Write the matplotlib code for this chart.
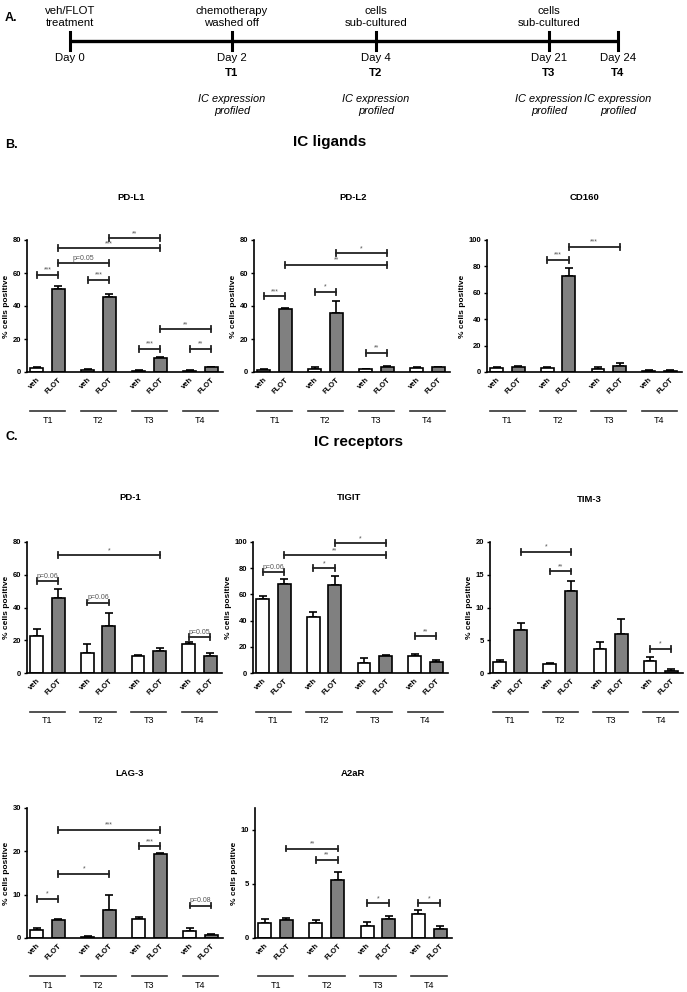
import numpy as np
import matplotlib
matplotlib.use("Agg")
import matplotlib.pyplot as plt
from matplotlib.transforms import blended_transform_factory

plt.rcParams['font.family'] = ['Liberation Sans', 'DejaVu Sans']

# ---- data -------------------------------------------------------------
groups = ['T1', 'T2', 'T3', 'T4']
bar_names = ['veh', 'FLOT']

days = ['Day 0', 'Day 2', 'Day 4', 'Day 21', 'Day 24']
timepoints = ['', 'T1', 'T2', 'T3', 'T4']
events = ['veh/FLOT\ntreatment', 'chemotherapy\nwashed off', 'cells\nsub-cultured',
          'cells\nsub-cultured', '']
profiled = ['', 'IC expression\nprofiled', 'IC expression\nprofiled',
            'IC expression\nprofiled', 'IC expression\nprofiled']

# PD-L1
pdl1_veh = [2.5, 1.3, 0.7, 0.8]
pdl1_veh_err = [0.5, 0.6, 0.3, 0.3]
pdl1_flot = [50.5, 45.5, 8.5, 2.8]
pdl1_flot_err = [1.5, 1.8, 0.6, 0.4]
pdl1_sig = [(0, 1, 59, '***'), (2, 3, 56, '***'), (1, 3, 66, 'p=0.05'),
            (1, 5, 75, '***'), (3, 5, 81, '**'), (4, 5, 14, '***'),
            (6, 7, 14, '**'), (5, 7, 26, '**')]

# PD-L2
pdl2_veh = [1.5, 2.0, 1.8, 2.5]
pdl2_veh_err = [0.5, 1.0, 0.3, 0.5]
pdl2_flot = [38.0, 36.0, 3.3, 2.8]
pdl2_flot_err = [1.0, 7.0, 0.5, 0.3]
pdl2_sig = [(0, 1, 46, '***'), (2, 3, 48.5, '*'), (4, 5, 11.5, '**'),
            (1, 5, 65, '**'), (3, 5, 72, '*')]

# CD160
cd160_veh = [3.0, 3.0, 2.5, 1.0]
cd160_veh_err = [0.5, 0.8, 1.0, 0.3]
cd160_flot = [3.5, 73.0, 4.5, 0.8]
cd160_flot_err = [0.7, 6.0, 2.0, 0.4]
cd160_sig = [(2, 3, 85, '***'), (3, 5, 95, '***')]

# PD-1
pd1_veh = [22.4, 12.0, 10.2, 17.8]
pd1_veh_err = [4.6, 5.5, 1.0, 1.0]
pd1_flot = [46.0, 29.0, 13.7, 10.6]
pd1_flot_err = [5.0, 7.5, 1.6, 1.6]
pd1_sig = [(0, 1, 56, 'p=0.06'), (2, 3, 43, 'p=0.06'), (6, 7, 22, 'p=0.05'),
           (1, 5, 72, '*')]

# TIGIT
tigit_veh = [56.5, 43.0, 7.6, 13.2]
tigit_veh_err = [2.5, 3.8, 3.8, 1.5]
tigit_flot = [68.0, 67.0, 12.7, 8.6]
tigit_flot_err = [3.4, 7.0, 0.7, 1.4]
tigit_sig = [(0, 1, 77, 'p=0.06'), (2, 3, 80, '*'), (1, 5, 90, '**'),
             (3, 5, 99, '*'), (6, 7, 28, '**')]

# TIM-3
tim3_veh = [1.75, 1.4, 3.7, 1.9]
tim3_veh_err = [0.25, 0.2, 1.1, 0.55]
tim3_flot = [6.6, 12.5, 6.0, 0.36]
tim3_flot_err = [1.1, 1.5, 2.3, 0.2]
tim3_sig = [(2, 3, 15.5, '**'), (1, 3, 18.5, '*'), (6, 7, 3.7, '*')]

# LAG-3
lag3_veh = [1.8, 0.25, 4.4, 1.6]
lag3_veh_err = [0.6, 0.15, 0.4, 0.6]
lag3_flot = [4.05, 6.35, 19.4, 0.6]
lag3_flot_err = [0.35, 3.65, 0.2, 0.4]
lag3_sig = [(0, 1, 9, '*'), (1, 3, 14.8, '*'), (4, 5, 21.2, '***'),
            (1, 5, 25, '***'), (6, 7, 7.5, 'p=0.08')]

# A2aR
a2ar_veh = [1.35, 1.4, 1.1, 2.17]
a2ar_veh_err = [0.45, 0.3, 0.35, 0.43]
a2ar_flot = [1.65, 5.4, 1.77, 0.86]
a2ar_flot_err = [0.2, 0.7, 0.23, 0.21]
a2ar_sig = [(1, 3, 8.25, '**'), (2, 3, 7.2, '**'), (4, 5, 3.2, '*'),
            (6, 7, 3.2, '*')]

# ---- layout (pixels in a 687x992 canvas) ------------------------------
W, H = 687, 992
fig = plt.figure(figsize=(W / 100, H / 100), dpi=100)


def px_axes(left, right, top, bottom):
    return fig.add_axes([left / W, 1 - bottom / H, (right - left) / W, (bottom - top) / H])


gap = 2.36
xpos = np.array([[g * gap, g * gap + 1] for g in range(4)]).ravel()


def panel(ax, veh, veh_err, flot, flot_err, sig, ymax, yticks, ytop=None):
    means = np.ravel(np.column_stack([veh, flot]))
    errs = np.ravel(np.column_stack([veh_err, flot_err]))
    colors = ['white', '#808080'] * 4
    ax.bar(xpos, means, width=0.6, color=colors, edgecolor='black', linewidth=1.2, zorder=2)
    ax.errorbar(xpos, means, yerr=[np.zeros_like(errs), errs], fmt='none',
                ecolor='black', elinewidth=1.2, capsize=3, capthick=1.2, zorder=1)
    ax.set_xlim(-0.45, xpos[-1] + 0.55)
    ax.set_ylim(0, ytop if ytop else ymax)
    ax.set_yticks(yticks)
    ax.set_yticklabels([str(t) for t in yticks], fontsize=5.5, fontweight='bold')
    ax.set_xticks(xpos)
    ax.set_xticklabels(bar_names * 4, rotation=45, ha='right', va='top',
                       rotation_mode='anchor', fontsize=5.5, fontweight='bold')
    ax.tick_params(axis='both', length=2.5, width=1.0, pad=1.5)
    ax.tick_params(axis='x', length=0, pad=3)
    for s in ['top', 'right']:
        ax.spines[s].set_visible(False)
    for s in ['left', 'bottom']:
        ax.spines[s].set_linewidth(1.2)
    if ytop:
        ax.spines['left'].set_bounds(0, ytop)
    ax.set_ylabel('% cells positive', fontsize=6, fontweight='bold', labelpad=2)

    # significance brackets
    yr = ytop if ytop else ymax
    d = yr * 0.022
    for i, j, y, lab in sig:
        x1, x2 = xpos[i], xpos[j]
        ax.plot([x1, x2], [y, y], color='#222222', lw=1.3, clip_on=False, zorder=3)
        for xx in (x1, x2):
            ax.plot([xx, xx], [y - d, y + d], color='#222222', lw=1.3, clip_on=False, zorder=3)
        ax.text((x1 + x2) / 2, y + d * 0.4, lab, ha='center', va='bottom',
                fontsize=5, color='#555555', clip_on=False)

    # group underline labels
    tr = blended_transform_factory(ax.transData, ax.transAxes)
    for g, name in enumerate(groups):
        c = g * gap + 0.5
        ax.plot([c - 0.82, c + 0.82], [-0.295, -0.295], transform=tr, color='#333333',
                lw=1.2, clip_on=False)
        ax.text(c, -0.33, name, transform=tr, ha='center', va='top', fontsize=6.5)


row1 = (240, 372)
row2 = (542, 673)
row3 = (808, 938)

ax = px_axes(27, 223, *row1)
panel(ax, pdl1_veh, pdl1_veh_err, pdl1_flot, pdl1_flot_err, pdl1_sig, 80, [0, 20, 40, 60, 80])
ax = px_axes(254, 450, *row1)
panel(ax, pdl2_veh, pdl2_veh_err, pdl2_flot, pdl2_flot_err, pdl2_sig, 80, [0, 20, 40, 60, 80])
ax = px_axes(487, 682, *row1)
panel(ax, cd160_veh, cd160_veh_err, cd160_flot, cd160_flot_err, cd160_sig, 100,
      [0, 20, 40, 60, 80, 100])

ax = px_axes(27, 222, *row2)
panel(ax, pd1_veh, pd1_veh_err, pd1_flot, pd1_flot_err, pd1_sig, 80, [0, 20, 40, 60, 80])
ax = px_axes(253, 448, *row2)
panel(ax, tigit_veh, tigit_veh_err, tigit_flot, tigit_flot_err, tigit_sig, 100,
      [0, 20, 40, 60, 80, 100])
ax = px_axes(490, 683, *row2)
panel(ax, tim3_veh, tim3_veh_err, tim3_flot, tim3_flot_err, tim3_sig, 20, [0, 5, 10, 15, 20])

ax = px_axes(27, 223, *row3)
panel(ax, lag3_veh, lag3_veh_err, lag3_flot, lag3_flot_err, lag3_sig, 30, [0, 10, 20, 30])
ax = px_axes(255, 452, *row3)
panel(ax, a2ar_veh, a2ar_veh_err, a2ar_flot, a2ar_flot_err, a2ar_sig, 10, [0, 5, 10], ytop=12)

# ---- overlay: timeline and headings ----------------------------------
ov = fig.add_axes([0, 0, 1, 1])
ov.set_xlim(0, W)
ov.set_ylim(H, 0)
ov.axis('off')

tick_x = [70, 232, 376, 549, 618]
line_y = 41
ov.plot([tick_x[0], tick_x[-1]], [line_y, line_y], color='black', lw=2.4, solid_capstyle='butt')
for x, day, tp, ev, pr in zip(tick_x, days, timepoints, events, profiled):
    ov.plot([x, x], [line_y - 9, line_y + 9], color='black', lw=2.2)
    ov.text(x, 58, day, ha='center', va='center', fontsize=8.2)
    if tp:
        ov.text(x, 73, tp, ha='center', va='center', fontsize=8.2, fontweight='bold')
    if ev:
        ov.text(x, 17, ev, ha='center', va='center', fontsize=8.2, linespacing=1.15)
    if pr:
        ov.text(x, 105, pr, ha='center', va='center', fontsize=7.9, style='italic',
                linespacing=1.25)

ov.text(5, 18, 'A.', ha='left', va='center', fontsize=9, fontweight='bold')
ov.text(5, 145, 'B.', ha='left', va='center', fontsize=9, fontweight='bold')
ov.text(5, 437, 'C.', ha='left', va='center', fontsize=9, fontweight='bold')
ov.text(330, 142, 'IC ligands', ha='center', va='center', fontsize=11, fontweight='bold')
ov.text(358, 442, 'IC receptors', ha='center', va='center', fontsize=11, fontweight='bold')

titles = [('PD-L1', 131, 197), ('PD-L2', 353, 197), ('CD160', 585, 197),
          ('PD-1', 130, 498), ('TIGIT', 349, 498), ('TIM-3', 589, 499),
          ('LAG-3', 130, 773), ('A2aR', 353, 773)]
for name, x, y in titles:
    ov.text(x, y, name, ha='center', va='center', fontsize=6.8, fontweight='bold')

fig.savefig('out.png', dpi=100)
